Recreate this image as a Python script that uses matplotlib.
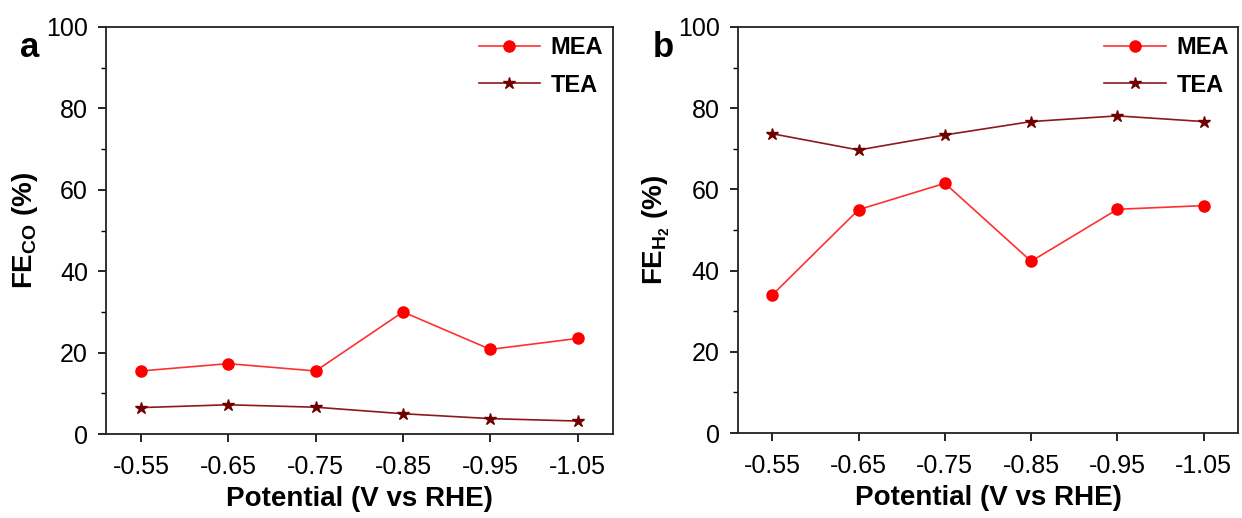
import matplotlib
matplotlib.use("Agg")
import matplotlib.pyplot as plt
from matplotlib.ticker import MultipleLocator

plt.rcParams['font.family'] = ['Liberation Sans', 'DejaVu Sans']
plt.rcParams['mathtext.fontset'] = 'custom'
plt.rcParams['mathtext.rm'] = 'Liberation Sans'
plt.rcParams['mathtext.bf'] = 'Liberation Sans:bold'

potentials = ["-0.55", "-0.65", "-0.75", "-0.85", "-0.95", "-1.05"]
fe_co_mea = [15.5, 17.3, 15.5, 30.0, 20.8, 23.5]
fe_co_tea = [6.5, 7.2, 6.6, 5.0, 3.8, 3.2]
fe_h2_mea = [34.0, 55.0, 61.5, 42.3, 55.1, 56.0]
fe_h2_tea = [73.7, 69.7, 73.4, 76.7, 78.1, 76.7]

fig = plt.figure(figsize=(12.42, 5.18), dpi=100)
axa = fig.add_axes([0.0853, 0.162, 0.408, 0.786])
axb = fig.add_axes([0.594, 0.164, 0.403, 0.784])

x = list(range(len(potentials)))

def style(ax, mea, tea, ylabel, letter):
    ax.plot(x, mea, color='#FF3030', lw=1.2, marker='o', ms=8,
            markerfacecolor='#FF0000', markeredgecolor='#FF0000', label='MEA')
    ax.plot(x, tea, color='#8B1A1A', lw=1.2, marker='*', ms=9,
            markerfacecolor='#700000', markeredgecolor='#700000', label='TEA')
    ax.set_xlim(-0.4, 5.4)
    ax.set_ylim(0, 100)
    ax.set_xticks(x)
    ax.set_xticklabels(potentials)
    ax.yaxis.set_major_locator(MultipleLocator(20))
    ax.yaxis.set_minor_locator(MultipleLocator(10))
    ax.tick_params(axis='both', which='major', direction='out', length=6, width=1.2,
                   labelsize=18, top=False, right=False, pad=7)
    ax.tick_params(axis='x', which='major', pad=9)
    ax.tick_params(axis='y', which='minor', direction='out', length=3.5, width=1.0)
    for s in ax.spines.values():
        s.set_linewidth(1.3)
        s.set_color('#222222')
    ax.set_xlabel('Potential (V vs RHE)', fontsize=20, fontweight='bold', labelpad=5)
    ax.set_ylabel(ylabel, fontsize=20, fontweight='bold', labelpad=4)
    ax.legend(loc='upper right', frameon=False,
              prop={'weight': 'bold', 'size': 17}, handlelength=2.6,
              borderaxespad=0.0, labelspacing=0.6, handletextpad=0.45)
    ax.text(-0.17, 0.99, letter, transform=ax.transAxes, fontsize=25,
            fontweight='bold', va='top', ha='left')

style(axa, fe_co_mea, fe_co_tea, r'FE$_{\mathregular{CO}}$ (%)', 'a')
style(axb, fe_h2_mea, fe_h2_tea, r'FE$_{\mathregular{H_2}}$ (%)', 'b')

fig.savefig('out.png', dpi=100)
